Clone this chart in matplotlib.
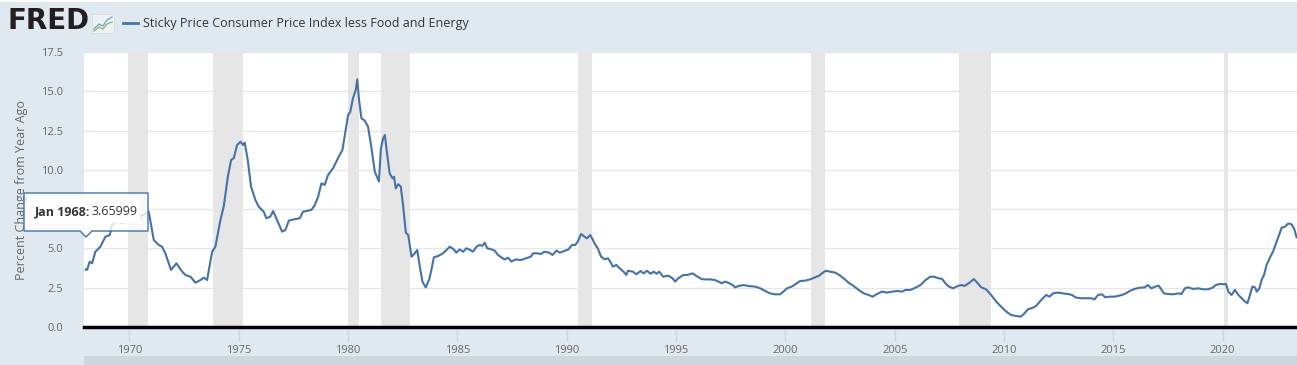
"""FRED style chart: Sticky Price CPI less Food and Energy, percent change from year ago."""

import matplotlib

matplotlib.use("Agg")
import matplotlib.pyplot as plt
from matplotlib.lines import Line2D
from matplotlib.patches import Polygon, Rectangle

W, H = 1297, 365

# series (decimal year, percent change from year ago)
dates = [
    1968.00, 1968.06, 1968.18, 1968.29, 1968.44, 1968.67, 1968.90, 1969.10, 1969.20, 1969.43,
    1969.74, 1969.97, 1970.35, 1970.65, 1970.88, 1971.11, 1971.34, 1971.49, 1971.64, 1971.90,
    1972.15, 1972.41, 1972.56, 1972.79, 1973.02, 1973.25, 1973.40, 1973.55, 1973.78, 1973.93,
    1974.16, 1974.31, 1974.50, 1974.65, 1974.77, 1974.92, 1975.08, 1975.20, 1975.27, 1975.41,
    1975.56, 1975.76, 1975.91, 1976.14, 1976.26, 1976.44, 1976.57, 1976.75, 1976.98, 1977.13,
    1977.29, 1977.52, 1977.79, 1977.94, 1978.17, 1978.32, 1978.48, 1978.63, 1978.78, 1978.93,
    1979.08, 1979.31, 1979.46, 1979.61, 1979.74, 1979.84, 1980.00, 1980.10, 1980.22, 1980.35,
    1980.42, 1980.50, 1980.61, 1980.76, 1980.91, 1981.06, 1981.22, 1981.32, 1981.41, 1981.50,
    1981.60, 1981.68, 1981.78, 1981.90, 1982.03, 1982.10, 1982.18, 1982.29, 1982.41, 1982.52,
    1982.64, 1982.75, 1982.90, 1983.05, 1983.16, 1983.28, 1983.40, 1983.55, 1983.71, 1983.81,
    1983.92, 1984.12, 1984.34, 1984.50, 1984.65, 1984.83, 1984.95, 1985.10, 1985.26, 1985.41,
    1985.59, 1985.71, 1985.87, 1986.02, 1986.14, 1986.25, 1986.36, 1986.55, 1986.70, 1986.86,
    1987.01, 1987.16, 1987.32, 1987.47, 1987.66, 1987.90, 1988.13, 1988.36, 1988.46, 1988.66,
    1988.82, 1988.97, 1989.20, 1989.35, 1989.53, 1989.69, 1989.89, 1990.08, 1990.24, 1990.39,
    1990.50, 1990.66, 1990.81, 1990.92, 1991.07, 1991.16, 1991.27, 1991.42, 1991.57, 1991.73,
    1991.88, 1991.99, 1992.11, 1992.27, 1992.42, 1992.60, 1992.72, 1992.80, 1993.03, 1993.18,
    1993.37, 1993.52, 1993.67, 1993.83, 1993.98, 1994.11, 1994.23, 1994.41, 1994.64, 1994.84,
    1994.96, 1995.10, 1995.33, 1995.51, 1995.76, 1995.94, 1996.17, 1996.32, 1996.55, 1996.78,
    1996.94, 1997.09, 1997.24, 1997.44, 1997.59, 1997.70, 1997.86, 1998.09, 1998.31, 1998.62,
    1998.85, 1999.08, 1999.30, 1999.53, 1999.76, 1999.91, 2000.07, 2000.29, 2000.52, 2000.68,
    2000.91, 2001.13, 2001.36, 2001.55, 2001.67, 2001.85, 2002.05, 2002.28, 2002.46, 2002.66,
    2002.89, 2003.12, 2003.35, 2003.58, 2003.81, 2003.99, 2004.19, 2004.42, 2004.65, 2004.88,
    2005.11, 2005.34, 2005.49, 2005.72, 2005.95, 2006.18, 2006.41, 2006.63, 2006.79, 2007.02,
    2007.17, 2007.32, 2007.44, 2007.66, 2007.89, 2008.04, 2008.19, 2008.42, 2008.62, 2008.80,
    2008.96, 2009.18, 2009.41, 2009.64, 2009.87, 2010.10, 2010.33, 2010.56, 2010.76, 2010.91,
    2011.09, 2011.32, 2011.47, 2011.70, 2011.93, 2012.08, 2012.24, 2012.46, 2012.69, 2012.92,
    2013.10, 2013.30, 2013.53, 2013.76, 2013.99, 2014.14, 2014.30, 2014.48, 2014.63, 2014.83,
    2015.06, 2015.29, 2015.52, 2015.75, 2015.97, 2016.20, 2016.43, 2016.58, 2016.74, 2016.92,
    2017.07, 2017.19, 2017.31, 2017.51, 2017.74, 2017.97, 2018.12, 2018.27, 2018.43, 2018.65,
    2018.88, 2019.11, 2019.34, 2019.54, 2019.69, 2019.87, 2020.03, 2020.15, 2020.26, 2020.41,
    2020.56, 2020.72, 2020.87, 2021.02, 2021.13, 2021.25, 2021.36, 2021.48, 2021.56, 2021.68,
    2021.78, 2021.89, 2022.01, 2022.17, 2022.32, 2022.47, 2022.62, 2022.70, 2022.85, 2023.00,
    2023.16, 2023.28, 2023.38,
]
values = [
    3.66, 3.63, 4.16, 4.05, 4.79, 5.11, 5.75, 5.85, 6.49, 6.70,
    6.60, 6.92, 7.02, 7.13, 7.34, 5.54, 5.22, 5.11, 4.69, 3.63,
    4.05, 3.52, 3.31, 3.20, 2.82, 2.99, 3.14, 2.99, 4.79, 5.11,
    6.81, 7.66, 9.57, 10.63, 10.74, 11.58, 11.79, 11.58, 11.73, 10.63,
    8.93, 8.08, 7.66, 7.34, 6.92, 7.02, 7.38, 6.81, 6.07, 6.17,
    6.77, 6.85, 6.92, 7.34, 7.40, 7.45, 7.77, 8.30, 9.14, 9.04,
    9.67, 10.10, 10.52, 10.95, 11.26, 12.11, 13.49, 13.70, 14.55, 15.08,
    15.76, 14.44, 13.28, 13.13, 12.75, 11.47, 9.88, 9.56, 9.25, 11.37,
    12.00, 12.22, 11.05, 9.78, 9.46, 9.56, 8.82, 9.09, 8.93, 7.66,
    6.00, 5.85, 4.47, 4.69, 4.90, 3.84, 2.88, 2.52, 3.03, 3.63,
    4.43, 4.52, 4.69, 4.90, 5.11, 4.94, 4.73, 4.94, 4.79, 5.01,
    4.90, 4.79, 5.11, 5.22, 5.16, 5.37, 5.01, 4.94, 4.86, 4.58,
    4.43, 4.30, 4.41, 4.16, 4.30, 4.26, 4.37, 4.48, 4.69, 4.69,
    4.64, 4.79, 4.73, 4.58, 4.86, 4.73, 4.84, 4.94, 5.22, 5.22,
    5.43, 5.92, 5.75, 5.64, 5.85, 5.64, 5.32, 5.00, 4.48, 4.31,
    4.37, 4.16, 3.84, 3.95, 3.73, 3.52, 3.31, 3.58, 3.52, 3.35,
    3.56, 3.41, 3.58, 3.39, 3.52, 3.39, 3.52, 3.20, 3.27, 3.10,
    2.89, 3.10, 3.31, 3.31, 3.41, 3.24, 3.05, 3.03, 3.03, 2.99,
    2.89, 2.78, 2.89, 2.78, 2.67, 2.52, 2.61, 2.67, 2.61, 2.57,
    2.46, 2.29, 2.14, 2.08, 2.08, 2.25, 2.46, 2.57, 2.78, 2.93,
    2.95, 3.03, 3.16, 3.27, 3.41, 3.58, 3.52, 3.46, 3.31, 3.10,
    2.82, 2.61, 2.36, 2.14, 2.04, 1.93, 2.10, 2.25, 2.19, 2.25,
    2.29, 2.25, 2.36, 2.36, 2.50, 2.67, 2.99, 3.20, 3.20, 3.10,
    3.05, 2.78, 2.61, 2.46, 2.61, 2.67, 2.61, 2.82, 3.05, 2.78,
    2.52, 2.40, 2.04, 1.62, 1.29, 0.98, 0.76, 0.70, 0.66, 0.83,
    1.12, 1.23, 1.34, 1.72, 2.04, 1.93, 2.14, 2.19, 2.14, 2.10,
    2.04, 1.87, 1.83, 1.83, 1.83, 1.76, 2.04, 2.08, 1.89, 1.93,
    1.93, 2.00, 2.10, 2.29, 2.42, 2.50, 2.52, 2.67, 2.46, 2.57,
    2.63, 2.40, 2.14, 2.10, 2.08, 2.14, 2.10, 2.46, 2.52, 2.42,
    2.46, 2.40, 2.40, 2.50, 2.67, 2.74, 2.72, 2.74, 2.25, 2.04,
    2.36, 2.04, 1.83, 1.62, 1.51, 2.04, 2.57, 2.52, 2.25, 2.46,
    2.99, 3.31, 3.95, 4.43, 4.86, 5.43, 6.00, 6.32, 6.38, 6.59,
    6.53, 6.21, 5.71,
]

recessions = [
    (1969.92, 1970.83), (1973.83, 1975.17), (1980.00, 1980.50), (1981.50, 1982.83),
    (1990.50, 1991.17), (2001.17, 2001.83), (2007.92, 2009.42), (2020.08, 2020.25),
]
x_ticks = [1970, 1975, 1980, 1985, 1990, 1995, 2000, 2005, 2010, 2015, 2020]
y_ticks = [0.0, 2.5, 5.0, 7.5, 10.0, 12.5, 15.0, 17.5]

title = "Sticky Price Consumer Price Index less Food and Energy"
y_label = "Percent Change from Year Ago"
tip_date = "Jan 1968:"
tip_value = "3.65999"

BG = "#e1e9f0"
LINE = "#4572a7"


def fx(px):
    return px / W


def fy(py):
    return 1 - py / H


plt.rcParams["font.family"] = ["Open Sans", "DejaVu Sans"]

fig = plt.figure(figsize=(W / 100, H / 100), dpi=100, facecolor=BG)
ax = fig.add_axes([fx(84), fy(327), fx(1297) - fx(84), fy(52) - fy(327)])
ax.set_facecolor("white")

for start, end in recessions:
    ax.axvspan(start, end, color="#e6e6e6", lw=0)
ax.plot(dates, values, color=LINE, lw=1.5, zorder=3)

ax.set_xlim(1967.92, 2023.40)
ax.set_ylim(0, 17.5)
ax.set_axisbelow(True)
ax.yaxis.grid(True, color="#e6e6e6", lw=1)
ax.set_yticks(y_ticks)
ax.set_yticklabels([f"{v:.1f}" for v in y_ticks])
ax.set_xticks(x_ticks)
ax.set_xticklabels([str(t) for t in x_ticks])
ax.tick_params(axis="y", length=0, pad=15, labelsize=8, labelcolor="#666666")
ax.tick_params(axis="x", length=10, width=1, color="#ccd6eb", pad=3, labelsize=8, labelcolor="#666666")
for side in ("top", "right", "left"):
    ax.spines[side].set_visible(False)
ax.spines["bottom"].set_color("black")
ax.spines["bottom"].set_linewidth(2.5)
fig.text(fx(22), fy(190), y_label, rotation=90, ha="center", va="center", fontsize=9, color="#666666")

# header
fig.add_artist(Rectangle((0, fy(2)), 1, fy(0) - fy(2), transform=fig.transFigure, color="white", lw=0))
fig.text(fx(8), fy(21), "FRED", fontsize=20, fontweight="bold", color="#231f20", ha="left", va="center",
         family="DejaVu Sans")
fig.add_artist(Rectangle((fx(92), fy(33)), fx(22), fy(14) - fy(33), transform=fig.transFigure,
                         facecolor="#eef2f5", edgecolor="#d5dde4", lw=0.6))
fig.add_artist(Line2D([fx(94), fx(99), fx(103), fx(107), fx(112)], [fy(29), fy(24), fy(26), fy(20), fy(17)],
                      transform=fig.transFigure, color="#7fa7cf", lw=1))
fig.add_artist(Line2D([fx(94), fx(99), fx(103), fx(107), fx(112)], [fy(31), fy(27), fy(29), fy(24), fy(22)],
                      transform=fig.transFigure, color="#8cc07a", lw=1))
fig.add_artist(Line2D([fx(123), fx(138)], [fy(23), fy(23)], transform=fig.transFigure, color=LINE, lw=2))
fig.text(fx(143), fy(23), title, fontsize=9, color="#333333", ha="left", va="center")

# navigator strip under the axis
fig.add_artist(Rectangle((fx(84), 0), 1 - fx(84), fy(356), transform=fig.transFigure, color="#cdd7e2", lw=0))

# hover tooltip on the first point
tip = [(24, 193), (148, 193), (148, 231), (92, 231), (86, 237), (80, 231), (24, 231)]
fig.add_artist(Polygon([(fx(a), fy(b)) for a, b in tip], closed=True, transform=fig.transFigure,
                       facecolor=(1, 1, 1, 0.8), edgecolor=LINE, lw=1, zorder=10))
fig.add_artist(Rectangle((fx(32), fy(223)), fx(108), fy(199) - fy(223), transform=fig.transFigure,
                         color="white", lw=0, zorder=11))
fig.text(fx(35), fy(212), tip_date, fontsize=9, fontweight="bold", color="#333333",
         ha="left", va="center", zorder=12)
fig.text(fx(91), fy(212), tip_value, fontsize=9, color="#333333", ha="left", va="center", zorder=12)

fig.savefig("out.png", dpi=100, facecolor=BG)
